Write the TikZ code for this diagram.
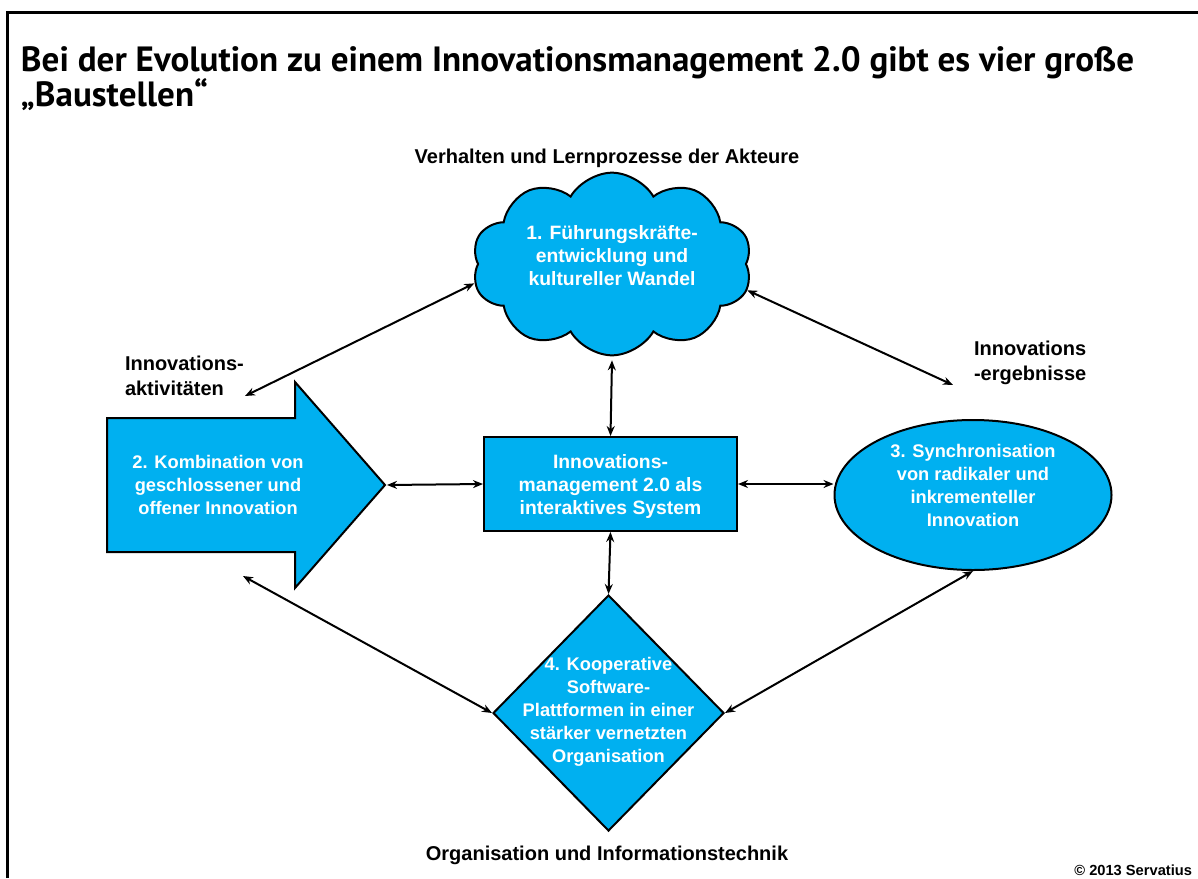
\documentclass[tikz,border=0pt]{standalone}
\usepackage{fontspec}
\setmainfont{Liberation Sans}
\newfontfamily\headfont{PT Sans}
\usetikzlibrary{shapes.geometric,shapes.symbols,arrows.meta}

\definecolor{baustelle}{RGB}{0,176,240}

\tikzset{every picture/.style={line width=1.5pt}}
\tikzset{
  field/.style={draw=black, line width=1.5pt, fill=baustelle},
  fieldtext/.style={text=white, align=center, inner sep=0pt,
    font=\bfseries\fontsize{14.5}{17.25}\selectfont},
  smallfieldtext/.style={fieldtext, font=\bfseries\fontsize{13.7}{17.25}\selectfont},
  notetext/.style={text=black, font=\bfseries\fontsize{15}{18.75}\selectfont, inner sep=0pt},
  link/.style={{Stealth[length=7.5pt,width=6pt]}-{Stealth[length=7.5pt,width=6pt]}, line width=1.5pt}
}

\begin{document}
\begin{tikzpicture}[x=0.75pt,y=0.75pt,yscale=-1,xscale=1]
\useasboundingbox (0,0) rectangle (1198,878);

%Frame: top and left edge
\draw[line width=2.25pt] (7,878) -- (7,12) -- (1198,12);

% Title
\node[anchor=base west, inner sep=0pt, font=\headfont\bfseries\fontsize{26.3}{30}\selectfont] (titel) at (20,71) {Bei der Evolution zu einem Innovationsmanagement 2.0 gibt es vier große};
\node[anchor=base west, inner sep=0pt, font=\headfont\bfseries\fontsize{26.3}{30}\selectfont] (titelzwei) at (20,106) {„Baustellen“};

%Shape: Cloud
\node[field, cloud, cloud puffs=10, cloud puff arc=120, aspect=1.55, inner sep=0pt,
  minimum width=210pt, minimum height=137pt] (kultur) at (612,264) {};
\node[fieldtext] (kulturtext) at (612,256) {1. Führungskräfte-\\entwicklung und\\kultureller Wandel};

%Shape: Block arrow
\draw[field] (107,418) -- (295,418) -- (295,382) -- (385,485) -- (295,588) -- (295,552) -- (107,552) -- cycle;
\node[smallfieldtext] (kombi) at (218,485) {2. Kombination von\\geschlossener und\\offener Innovation};
\coordinate (kombispitze) at (387,485);

%Shape: Rectangle
\node[field, rectangle, minimum width=189.75pt, minimum height=70.5pt] (system) at (610.5,484) {};
\node[fieldtext] (systemtext) at (610.5,486) {Innovations-\\management 2.0 als\\interaktives System};

%Shape: Ellipse
\node[field, ellipse, inner sep=0pt, minimum width=207.75pt, minimum height=112.5pt] (synchro) at (973,495) {};
\node[smallfieldtext] (synchrotext) at (973,485) {3. Synchronisation\\von radikaler und\\inkrementeller\\Innovation};

%Shape: Diamond
\node[field, diamond, aspect=1, inner sep=0pt, minimum width=173.25pt, minimum height=177pt] (plattform) at (608.5,713) {};
\node[smallfieldtext] (plattformtext) at (608.5,712) {4. Kooperative\\Software-\\Plattformen in einer\\stärker vernetzten\\Organisation};

% Text Nodes
\node[notetext] (akteure) at (607,158) {Verhalten und Lernprozesse der Akteure};
\node[notetext, align=left, anchor=north west] (aktiv) at (124,355) {Innovations-\\aktivitäten};
\node[notetext, align=left, anchor=north west] (ergebnis) at (973,340) {Innovations\\-ergebnisse};
\node[notetext] (technik) at (607,855) {Organisation und Informationstechnik};
\node[notetext, anchor=base east, font=\bfseries\fontsize{11}{12}\selectfont] (copy) at (1193,875) {© 2013 Servatius};

% free ends
\coordinate (aktivende) at (245,396);
\coordinate (ergebnisende) at (953,385);
\coordinate (kombiende) at (243,576);

%Straight Lines
\draw[link] ([yshift=3pt]kultur.south) -- (system.north);
\draw[link] (kultur.188) -- (aktivende);
\draw[link] (kultur.349) -- (ergebnisende);
\draw[link] (kombispitze) -- (system.west);
\draw[link] (system.east) -- (synchro.west |- system.east);
\draw[link] (system.south) -- (plattform.north);
\draw[link] (kombiende) -- (plattform.west);
\draw[link] (synchro.south) -- (plattform.east);

\end{tikzpicture}
\end{document}
